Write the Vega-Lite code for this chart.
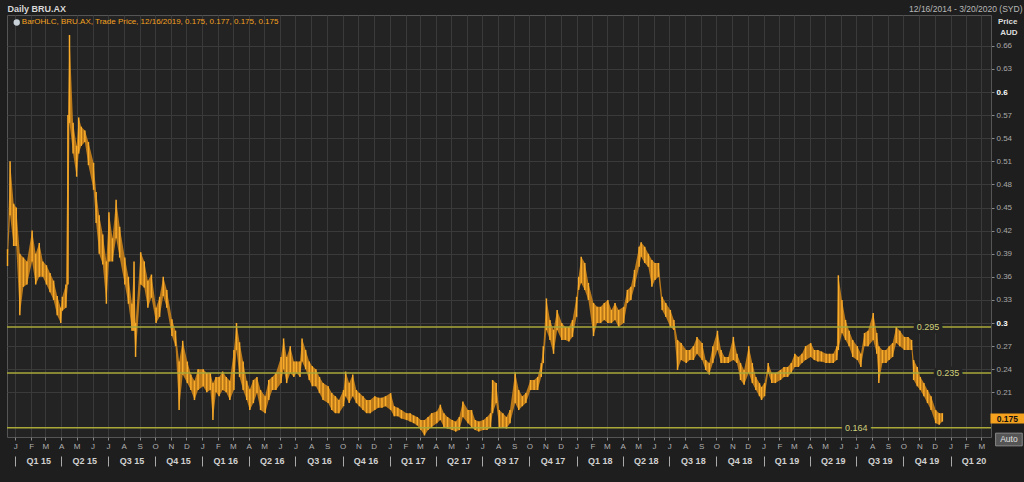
{
  "$schema": "https://vega.github.io/schema/vega-lite/v6.json",
  "width": 984,
  "height": 422,
  "autosize": {"type": "none"},
  "padding": {"left": 7, "top": 15, "right": 33, "bottom": 45},
  "background": "#1e1e1e",
  "config": {
    "font": "Liberation Sans",
    "view": {"fill": "#232323", "stroke": "#555555", "strokeWidth": 1}
  },
  "datasets": {
    "px": [
        {"d":"2014-12-17","lo":0.374,"hi":0.396},{"d":"2014-12-22","lo":0.44,"hi":0.51},{"d":"2014-12-29","lo":0.40,"hi":0.455},
        {"d":"2015-01-03","lo":0.40,"hi":0.45},{"d":"2015-01-10","lo":0.31,"hi":0.39},{"d":"2015-01-17","lo":0.347,"hi":0.385},{"d":"2015-01-24","lo":0.35,"hi":0.38},
        {"d":"2015-02-03","lo":0.38,"hi":0.42},{"d":"2015-02-10","lo":0.35,"hi":0.39},{"d":"2015-02-17","lo":0.36,"hi":0.404},{"d":"2015-02-24","lo":0.36,"hi":0.38},
        {"d":"2015-03-03","lo":0.35,"hi":0.375},{"d":"2015-03-10","lo":0.34,"hi":0.365},{"d":"2015-03-17","lo":0.33,"hi":0.355},{"d":"2015-03-24","lo":0.31,"hi":0.335},{"d":"2015-03-31","lo":0.30,"hi":0.32},
        {"d":"2015-04-03","lo":0.316,"hi":0.334},{"d":"2015-04-10","lo":0.32,"hi":0.35},{"d":"2015-04-14","lo":0.35,"hi":0.57},{"d":"2015-04-17","lo":0.56,"hi":0.674},{"d":"2015-04-24","lo":0.52,"hi":0.56},
        {"d":"2015-05-01","lo":0.49,"hi":0.53},{"d":"2015-05-05","lo":0.52,"hi":0.567},{"d":"2015-05-10","lo":0.53,"hi":0.555},{"d":"2015-05-17","lo":0.535,"hi":0.55},{"d":"2015-05-24","lo":0.505,"hi":0.535},
        {"d":"2015-06-03","lo":0.473,"hi":0.508},{"d":"2015-06-08","lo":0.43,"hi":0.47},{"d":"2015-06-14","lo":0.39,"hi":0.44},{"d":"2015-06-21","lo":0.376,"hi":0.415},{"d":"2015-06-28","lo":0.325,"hi":0.38},
        {"d":"2015-07-03","lo":0.38,"hi":0.444},{"d":"2015-07-10","lo":0.38,"hi":0.41},{"d":"2015-07-17","lo":0.41,"hi":0.46},{"d":"2015-07-24","lo":0.385,"hi":0.425},
        {"d":"2015-08-03","lo":0.35,"hi":0.385},{"d":"2015-08-10","lo":0.325,"hi":0.36},{"d":"2015-08-17","lo":0.29,"hi":0.325},{"d":"2015-08-21","lo":0.29,"hi":0.38},{"d":"2015-08-24","lo":0.256,"hi":0.30},
        {"d":"2015-09-03","lo":0.35,"hi":0.392},{"d":"2015-09-10","lo":0.346,"hi":0.38},{"d":"2015-09-17","lo":0.32,"hi":0.355},{"d":"2015-09-24","lo":0.333,"hi":0.363},
        {"d":"2015-10-03","lo":0.30,"hi":0.32},{"d":"2015-10-10","lo":0.308,"hi":0.334},{"d":"2015-10-17","lo":0.335,"hi":0.36},{"d":"2015-10-24","lo":0.32,"hi":0.343},
        {"d":"2015-11-03","lo":0.283,"hi":0.305},{"d":"2015-11-10","lo":0.27,"hi":0.29},{"d":"2015-11-17","lo":0.187,"hi":0.25},{"d":"2015-11-24","lo":0.233,"hi":0.277},
        {"d":"2015-12-03","lo":0.222,"hi":0.25},{"d":"2015-12-10","lo":0.213,"hi":0.233},{"d":"2015-12-17","lo":0.20,"hi":0.225},{"d":"2015-12-24","lo":0.213,"hi":0.24},
        {"d":"2016-01-03","lo":0.218,"hi":0.24},{"d":"2016-01-10","lo":0.21,"hi":0.235},{"d":"2016-01-17","lo":0.213,"hi":0.235},{"d":"2016-01-22","lo":0.174,"hi":0.222},{"d":"2016-01-28","lo":0.21,"hi":0.23},
        {"d":"2016-02-03","lo":0.205,"hi":0.23},{"d":"2016-02-10","lo":0.213,"hi":0.237},{"d":"2016-02-17","lo":0.21,"hi":0.23},{"d":"2016-02-24","lo":0.20,"hi":0.225},
        {"d":"2016-03-03","lo":0.213,"hi":0.265},{"d":"2016-03-08","lo":0.265,"hi":0.30},{"d":"2016-03-14","lo":0.23,"hi":0.275},{"d":"2016-03-21","lo":0.213,"hi":0.25},{"d":"2016-03-28","lo":0.20,"hi":0.225},
        {"d":"2016-04-03","lo":0.187,"hi":0.214},{"d":"2016-04-10","lo":0.196,"hi":0.226},{"d":"2016-04-17","lo":0.209,"hi":0.23},{"d":"2016-04-24","lo":0.187,"hi":0.213},
        {"d":"2016-05-03","lo":0.183,"hi":0.205},{"d":"2016-05-10","lo":0.20,"hi":0.226},{"d":"2016-05-17","lo":0.213,"hi":0.23},{"d":"2016-05-24","lo":0.213,"hi":0.235},
        {"d":"2016-06-03","lo":0.222,"hi":0.256},{"d":"2016-06-08","lo":0.24,"hi":0.28},{"d":"2016-06-14","lo":0.222,"hi":0.256},{"d":"2016-06-21","lo":0.235,"hi":0.27},{"d":"2016-06-28","lo":0.23,"hi":0.25},
        {"d":"2016-07-03","lo":0.235,"hi":0.25},{"d":"2016-07-10","lo":0.23,"hi":0.25},{"d":"2016-07-14","lo":0.25,"hi":0.28},{"d":"2016-07-21","lo":0.24,"hi":0.265},{"d":"2016-07-28","lo":0.226,"hi":0.25},
        {"d":"2016-08-03","lo":0.218,"hi":0.244},{"d":"2016-08-10","lo":0.218,"hi":0.24},{"d":"2016-08-17","lo":0.209,"hi":0.23},{"d":"2016-08-24","lo":0.20,"hi":0.222},
        {"d":"2016-09-03","lo":0.196,"hi":0.218},{"d":"2016-09-10","lo":0.187,"hi":0.209},{"d":"2016-09-17","lo":0.183,"hi":0.205},{"d":"2016-09-24","lo":0.183,"hi":0.20},
        {"d":"2016-10-03","lo":0.192,"hi":0.213},{"d":"2016-10-07","lo":0.205,"hi":0.237},{"d":"2016-10-14","lo":0.196,"hi":0.222},{"d":"2016-10-21","lo":0.205,"hi":0.233},{"d":"2016-10-28","lo":0.196,"hi":0.213},
        {"d":"2016-11-03","lo":0.192,"hi":0.209},{"d":"2016-11-10","lo":0.187,"hi":0.205},{"d":"2016-11-17","lo":0.183,"hi":0.20},{"d":"2016-11-24","lo":0.183,"hi":0.20},
        {"d":"2016-12-03","lo":0.187,"hi":0.205},{"d":"2016-12-10","lo":0.19,"hi":0.203},{"d":"2016-12-17","lo":0.19,"hi":0.203},{"d":"2016-12-24","lo":0.192,"hi":0.205},
        {"d":"2017-01-03","lo":0.187,"hi":0.209},{"d":"2017-01-10","lo":0.179,"hi":0.192},{"d":"2017-01-17","lo":0.179,"hi":0.19},{"d":"2017-01-24","lo":0.176,"hi":0.187},
        {"d":"2017-02-03","lo":0.174,"hi":0.183},{"d":"2017-02-10","lo":0.172,"hi":0.183},{"d":"2017-02-17","lo":0.17,"hi":0.18},{"d":"2017-02-24","lo":0.167,"hi":0.178},
        {"d":"2017-03-03","lo":0.161,"hi":0.174},{"d":"2017-03-10","lo":0.154,"hi":0.174},{"d":"2017-03-17","lo":0.161,"hi":0.178},{"d":"2017-03-24","lo":0.165,"hi":0.183},
        {"d":"2017-04-03","lo":0.17,"hi":0.185},{"d":"2017-04-10","lo":0.174,"hi":0.194},{"d":"2017-04-17","lo":0.165,"hi":0.183},{"d":"2017-04-24","lo":0.163,"hi":0.178},
        {"d":"2017-05-03","lo":0.161,"hi":0.174},{"d":"2017-05-10","lo":0.159,"hi":0.172},{"d":"2017-05-17","lo":0.161,"hi":0.178},{"d":"2017-05-24","lo":0.178,"hi":0.198},
        {"d":"2017-06-03","lo":0.17,"hi":0.187},{"d":"2017-06-10","lo":0.165,"hi":0.187},{"d":"2017-06-17","lo":0.161,"hi":0.174},{"d":"2017-06-24","lo":0.159,"hi":0.172},
        {"d":"2017-07-03","lo":0.161,"hi":0.174},{"d":"2017-07-10","lo":0.161,"hi":0.178},{"d":"2017-07-17","lo":0.165,"hi":0.183},{"d":"2017-07-21","lo":0.183,"hi":0.226},{"d":"2017-07-28","lo":0.196,"hi":0.222},
        {"d":"2017-08-03","lo":0.165,"hi":0.187},{"d":"2017-08-10","lo":0.165,"hi":0.183},{"d":"2017-08-17","lo":0.163,"hi":0.178},{"d":"2017-08-24","lo":0.17,"hi":0.187},
        {"d":"2017-09-03","lo":0.196,"hi":0.236},{"d":"2017-09-10","lo":0.187,"hi":0.213},{"d":"2017-09-17","lo":0.192,"hi":0.205},{"d":"2017-09-24","lo":0.196,"hi":0.209},
        {"d":"2017-10-03","lo":0.213,"hi":0.226},{"d":"2017-10-10","lo":0.213,"hi":0.226},{"d":"2017-10-17","lo":0.213,"hi":0.23},{"d":"2017-10-24","lo":0.23,"hi":0.248},{"d":"2017-10-28","lo":0.248,"hi":0.27},
        {"d":"2017-11-03","lo":0.291,"hi":0.332},{"d":"2017-11-10","lo":0.278,"hi":0.304},{"d":"2017-11-17","lo":0.26,"hi":0.291},{"d":"2017-11-24","lo":0.291,"hi":0.317},
        {"d":"2017-12-03","lo":0.278,"hi":0.30},{"d":"2017-12-10","lo":0.278,"hi":0.295},{"d":"2017-12-17","lo":0.276,"hi":0.295},{"d":"2017-12-24","lo":0.282,"hi":0.304},
        {"d":"2018-01-01","lo":0.308,"hi":0.334},{"d":"2018-01-05","lo":0.343,"hi":0.36},{"d":"2018-01-10","lo":0.352,"hi":0.386},{"d":"2018-01-17","lo":0.343,"hi":0.378},{"d":"2018-01-24","lo":0.33,"hi":0.352},
        {"d":"2018-02-03","lo":0.283,"hi":0.326},{"d":"2018-02-10","lo":0.30,"hi":0.321},{"d":"2018-02-17","lo":0.30,"hi":0.321},{"d":"2018-02-24","lo":0.304,"hi":0.326},
        {"d":"2018-03-03","lo":0.30,"hi":0.33},{"d":"2018-03-10","lo":0.30,"hi":0.317},{"d":"2018-03-17","lo":0.304,"hi":0.326},{"d":"2018-03-24","lo":0.295,"hi":0.317},
        {"d":"2018-04-03","lo":0.30,"hi":0.321},{"d":"2018-04-10","lo":0.326,"hi":0.343},{"d":"2018-04-17","lo":0.33,"hi":0.347},{"d":"2018-04-24","lo":0.347,"hi":0.369},
        {"d":"2018-05-03","lo":0.373,"hi":0.399},{"d":"2018-05-07","lo":0.386,"hi":0.405},{"d":"2018-05-14","lo":0.378,"hi":0.399},{"d":"2018-05-21","lo":0.373,"hi":0.39},{"d":"2018-05-28","lo":0.347,"hi":0.382},
        {"d":"2018-06-03","lo":0.356,"hi":0.378},{"d":"2018-06-10","lo":0.36,"hi":0.378},{"d":"2018-06-17","lo":0.317,"hi":0.334},{"d":"2018-06-24","lo":0.308,"hi":0.326},
        {"d":"2018-07-03","lo":0.295,"hi":0.317},{"d":"2018-07-10","lo":0.291,"hi":0.304},{"d":"2018-07-17","lo":0.239,"hi":0.278},{"d":"2018-07-24","lo":0.252,"hi":0.274},
        {"d":"2018-08-03","lo":0.248,"hi":0.265},{"d":"2018-08-10","lo":0.252,"hi":0.265},{"d":"2018-08-17","lo":0.252,"hi":0.27},{"d":"2018-08-24","lo":0.26,"hi":0.282},
        {"d":"2018-09-03","lo":0.252,"hi":0.274},{"d":"2018-09-10","lo":0.239,"hi":0.252},{"d":"2018-09-17","lo":0.233,"hi":0.248},{"d":"2018-09-24","lo":0.248,"hi":0.27},
        {"d":"2018-10-03","lo":0.265,"hi":0.29},{"d":"2018-10-10","lo":0.248,"hi":0.265},{"d":"2018-10-17","lo":0.248,"hi":0.256},{"d":"2018-10-24","lo":0.248,"hi":0.256},
        {"d":"2018-11-03","lo":0.252,"hi":0.282},{"d":"2018-11-10","lo":0.248,"hi":0.26},{"d":"2018-11-17","lo":0.226,"hi":0.248},{"d":"2018-11-24","lo":0.22,"hi":0.239},
        {"d":"2018-12-03","lo":0.235,"hi":0.27},{"d":"2018-12-10","lo":0.222,"hi":0.248},{"d":"2018-12-17","lo":0.213,"hi":0.23},{"d":"2018-12-24","lo":0.205,"hi":0.222},{"d":"2018-12-28","lo":0.20,"hi":0.217},
        {"d":"2019-01-03","lo":0.205,"hi":0.222},{"d":"2019-01-10","lo":0.235,"hi":0.248},{"d":"2019-01-17","lo":0.222,"hi":0.235},{"d":"2019-01-24","lo":0.222,"hi":0.235},
        {"d":"2019-02-03","lo":0.226,"hi":0.239},{"d":"2019-02-10","lo":0.23,"hi":0.243},{"d":"2019-02-17","lo":0.23,"hi":0.243},{"d":"2019-02-24","lo":0.235,"hi":0.248},
        {"d":"2019-03-03","lo":0.243,"hi":0.26},{"d":"2019-03-10","lo":0.243,"hi":0.256},{"d":"2019-03-17","lo":0.248,"hi":0.26},{"d":"2019-03-24","lo":0.252,"hi":0.27},
        {"d":"2019-04-03","lo":0.256,"hi":0.274},{"d":"2019-04-10","lo":0.252,"hi":0.265},{"d":"2019-04-17","lo":0.25,"hi":0.265},{"d":"2019-04-24","lo":0.25,"hi":0.263},
        {"d":"2019-05-03","lo":0.248,"hi":0.26},{"d":"2019-05-10","lo":0.248,"hi":0.26},{"d":"2019-05-17","lo":0.248,"hi":0.26},{"d":"2019-05-24","lo":0.252,"hi":0.27},{"d":"2019-05-27","lo":0.265,"hi":0.362},
        {"d":"2019-06-03","lo":0.287,"hi":0.33},{"d":"2019-06-10","lo":0.278,"hi":0.304},{"d":"2019-06-17","lo":0.27,"hi":0.29},{"d":"2019-06-24","lo":0.256,"hi":0.278},
        {"d":"2019-07-03","lo":0.252,"hi":0.27},{"d":"2019-07-10","lo":0.243,"hi":0.26},{"d":"2019-07-17","lo":0.27,"hi":0.287},{"d":"2019-07-24","lo":0.27,"hi":0.29},
        {"d":"2019-08-03","lo":0.278,"hi":0.313},{"d":"2019-08-10","lo":0.26,"hi":0.287},{"d":"2019-08-14","lo":0.222,"hi":0.27},{"d":"2019-08-21","lo":0.248,"hi":0.265},{"d":"2019-08-28","lo":0.248,"hi":0.265},
        {"d":"2019-09-03","lo":0.252,"hi":0.27},{"d":"2019-09-10","lo":0.256,"hi":0.274},{"d":"2019-09-17","lo":0.274,"hi":0.295},{"d":"2019-09-24","lo":0.27,"hi":0.29},
        {"d":"2019-10-03","lo":0.265,"hi":0.282},{"d":"2019-10-10","lo":0.265,"hi":0.282},{"d":"2019-10-17","lo":0.265,"hi":0.278},{"d":"2019-10-21","lo":0.226,"hi":0.252},{"d":"2019-10-28","lo":0.218,"hi":0.243},
        {"d":"2019-11-03","lo":0.213,"hi":0.23},{"d":"2019-11-10","lo":0.205,"hi":0.222},{"d":"2019-11-17","lo":0.196,"hi":0.213},{"d":"2019-11-24","lo":0.187,"hi":0.205},
        {"d":"2019-12-03","lo":0.17,"hi":0.187},{"d":"2019-12-10","lo":0.168,"hi":0.183},{"d":"2019-12-16","lo":0.172,"hi":0.183}
    ],
    "levels": [{"v": 0.295, "d": "2019-11-18", "lbl": "0.295"}, {"v": 0.235, "d": "2019-12-27", "lbl": "0.235"}, {"v": 0.164, "d": "2019-07-01", "lbl": "0.164"}],
    "one": [{"legend": "BarOHLC, BRU.AX, Trade Price, 12/16/2019, 0.175, 0.177, 0.175, 0.175", "last": "0.175", "btn": "Auto"}]
  },
  "resolve": {"axis": {"x": "independent", "y": "independent"}},
  "layer": [
    {
      "data": {"name": "px"},
      "mark": {"type": "area", "color": "#d4881a", "opacity": 0.85},
      "encoding": {
        "x": {
          "field": "d", "type": "temporal",
          "scale": {"domain": [{"year": 2014, "month": 12, "date": 16}, {"year": 2020, "month": 3, "date": 20}], "nice": false},
          "axis": {
            "orient": "bottom", "title": null, "tickCount": {"interval": "month", "step": 1},
            "labelExpr": "substring(timeFormat(datum.value, '%b'), 0, 1)",
            "labelFontSize": 8, "labelColor": "#b0b0b0", "labelPadding": 2, "labelOverlap": false, "labelFlush": false,
            "tickSize": 3, "tickColor": "#888888", "domain": false,
            "grid": true, "gridColor": "#3a3a3a", "gridWidth": 1
          }
        },
        "y": {
          "field": "lo", "type": "quantitative",
          "scale": {"domain": [0.152, 0.7], "nice": false, "zero": false},
          "axis": {
            "orient": "right",
            "values": [0.21, 0.24, 0.27, 0.3, 0.33, 0.36, 0.39, 0.42, 0.45, 0.48, 0.51, 0.54, 0.57, 0.6, 0.63, 0.66],
            "format": ".2~f", "labelOverlap": false, "labelFlush": false,
            "labelFontSize": 8, "labelPadding": 2,
            "labelColor": {"expr": "datum.value == 0.3 || datum.value == 0.6 ? '#ffffff' : '#a8a8a8'"},
            "labelFontWeight": {"expr": "datum.value == 0.3 || datum.value == 0.6 ? 'bold' : 'normal'"},
            "tickSize": 3, "tickColor": "#888888", "domainColor": "#555555",
            "grid": true, "gridColor": "#3a3a3a", "gridWidth": 1,
            "title": ["Price", "AUD"], "titleAngle": 0, "titleX": 26, "titleY": 2,
            "titleAlign": "right", "titleBaseline": "top", "titleFontSize": 8, "titleFontWeight": "bold",
            "titleColor": "#dddddd", "titleLineHeight": 11
          }
        },
        "y2": {"field": "hi"}
      }
    },
    {
      "data": {"name": "px"},
      "mark": {"type": "rule", "color": "#f9ab2a", "strokeWidth": 1.5},
      "encoding": {
        "x": {"field": "d", "type": "temporal", "axis": null},
        "y": {"field": "lo", "type": "quantitative", "axis": null},
        "y2": {"field": "hi"}
      }
    },
    {
      "data": {"name": "levels"},
      "mark": {"type": "rule", "color": "#a9a93a", "strokeWidth": 1.5},
      "encoding": {"y": {"field": "v", "type": "quantitative", "axis": null}}
    },
    {
      "data": {"name": "levels"},
      "mark": {"type": "text", "fontSize": 9, "color": "#232323", "stroke": "#232323", "strokeWidth": 7, "baseline": "middle"},
      "encoding": {
        "x": {"field": "d", "type": "temporal",
          "axis": {"orient": "bottom", "title": null, "offset": 17, "grid": false, "domain": false, "ticks": false,
            "values": [
              {"year": 2015, "month": 2, "date": 15}, {"year": 2015, "month": 5, "date": 16}, {"year": 2015, "month": 8, "date": 16}, {"year": 2015, "month": 11, "date": 15},
              {"year": 2016, "month": 2, "date": 15}, {"year": 2016, "month": 5, "date": 16}, {"year": 2016, "month": 8, "date": 16}, {"year": 2016, "month": 11, "date": 15},
              {"year": 2017, "month": 2, "date": 15}, {"year": 2017, "month": 5, "date": 16}, {"year": 2017, "month": 8, "date": 16}, {"year": 2017, "month": 11, "date": 15},
              {"year": 2018, "month": 2, "date": 15}, {"year": 2018, "month": 5, "date": 16}, {"year": 2018, "month": 8, "date": 16}, {"year": 2018, "month": 11, "date": 15},
              {"year": 2019, "month": 2, "date": 15}, {"year": 2019, "month": 5, "date": 16}, {"year": 2019, "month": 8, "date": 16}, {"year": 2019, "month": 11, "date": 15},
              {"year": 2020, "month": 2, "date": 15}
            ],
            "labelExpr": "'Q' + quarter(datum.value) + ' ' + timeFormat(datum.value, '%y')",
            "labelFontSize": 9, "labelFontWeight": "bold", "labelColor": "#d0d0d0", "labelPadding": 2,
            "labelOverlap": false, "labelFlush": false}},
        "y": {"field": "v", "type": "quantitative", "axis": null},
        "text": {"field": "lbl"}
      }
    },
    {
      "data": {"name": "levels"},
      "mark": {"type": "text", "fontSize": 9, "color": "#cfcf7a", "baseline": "middle"},
      "encoding": {
        "x": {"field": "d", "type": "temporal",
          "axis": {"orient": "bottom", "title": null, "offset": 19, "grid": false, "domain": false, "labels": false,
            "tickSize": 10, "tickColor": "#aaaaaa",
            "values": [
              {"year": 2015, "month": 1, "date": 1}, {"year": 2015, "month": 4, "date": 1}, {"year": 2015, "month": 7, "date": 1}, {"year": 2015, "month": 10, "date": 1},
              {"year": 2016, "month": 1, "date": 1}, {"year": 2016, "month": 4, "date": 1}, {"year": 2016, "month": 7, "date": 1}, {"year": 2016, "month": 10, "date": 1},
              {"year": 2017, "month": 1, "date": 1}, {"year": 2017, "month": 4, "date": 1}, {"year": 2017, "month": 7, "date": 1}, {"year": 2017, "month": 10, "date": 1},
              {"year": 2018, "month": 1, "date": 1}, {"year": 2018, "month": 4, "date": 1}, {"year": 2018, "month": 7, "date": 1}, {"year": 2018, "month": 10, "date": 1},
              {"year": 2019, "month": 1, "date": 1}, {"year": 2019, "month": 4, "date": 1}, {"year": 2019, "month": 7, "date": 1}, {"year": 2019, "month": 10, "date": 1},
              {"year": 2020, "month": 1, "date": 1}
            ]}},
        "y": {"field": "v", "type": "quantitative", "axis": null},
        "text": {"field": "lbl"}
      }
    },
    {
      "data": {"name": "one"},
      "mark": {"type": "text", "align": "left", "baseline": "middle", "fontSize": 8, "color": "#f5a21e"},
      "encoding": {
        "x": {"datum": {"year": 2015, "month": 1, "date": 14}, "type": "temporal",
          "axis": {"orient": "top", "title": "Daily BRU.AX", "labels": false, "ticks": false, "domain": false, "grid": false,
            "titleX": 0, "titleY": -4, "titleAlign": "left", "titleAnchor": null, "titleBaseline": "alphabetic",
            "titleFontSize": 9, "titleFontWeight": "bold", "titleColor": "#d8d8d8"}},
        "y": {"datum": 0.6903, "type": "quantitative", "axis": null},
        "text": {"field": "legend"}
      }
    },
    {
      "data": {"name": "one"},
      "mark": {"type": "point", "shape": "circle", "filled": true, "size": 40, "color": "#c8d0d8", "opacity": 1},
      "encoding": {
        "x": {"datum": {"year": 2015, "month": 1, "date": 4}, "type": "temporal",
          "axis": {"orient": "top", "title": "12/16/2014 - 3/20/2020 (SYD)", "labels": false, "ticks": false, "domain": false, "grid": false,
            "titleX": 1015, "titleY": -4, "titleAlign": "right", "titleAnchor": null, "titleBaseline": "alphabetic",
            "titleFontSize": 8.5, "titleFontWeight": "normal", "titleColor": "#b8b8b8"}},
        "y": {"datum": 0.6903, "type": "quantitative", "axis": null}
      }
    },
    {
      "data": {"name": "one"},
      "mark": {"type": "rect", "color": "#f5a21e", "clip": false},
      "encoding": {
        "x": {"datum": {"year": 2020, "month": 3, "date": 19}, "type": "temporal", "axis": null},
        "x2": {"datum": {"year": 2020, "month": 5, "date": 24}},
        "y": {"datum": 0.1825, "type": "quantitative", "axis": null},
        "y2": {"datum": 0.1695}
      }
    },
    {
      "data": {"name": "one"},
      "mark": {"type": "text", "color": "#111111", "fontSize": 8.5, "fontWeight": "bold", "align": "center", "baseline": "middle"},
      "encoding": {
        "x": {"datum": {"year": 2020, "month": 4, "date": 21}, "type": "temporal", "axis": null},
        "y": {"datum": 0.176, "type": "quantitative", "axis": null},
        "text": {"field": "last"}
      }
    },
    {
      "data": {"name": "one"},
      "mark": {"type": "rect", "color": "#555555", "stroke": "#888888", "strokeWidth": 1},
      "encoding": {
        "x": {"datum": {"year": 2020, "month": 3, "date": 29}, "type": "temporal", "axis": null},
        "x2": {"datum": {"year": 2020, "month": 5, "date": 20}},
        "y": {"datum": 0.157, "type": "quantitative", "axis": null},
        "y2": {"datum": 0.1405}
      }
    },
    {
      "data": {"name": "one"},
      "mark": {"type": "text", "color": "#e0e0e0", "fontSize": 8.5, "align": "center", "baseline": "middle"},
      "encoding": {
        "x": {"datum": {"year": 2020, "month": 4, "date": 24}, "type": "temporal", "axis": null},
        "y": {"datum": 0.1488, "type": "quantitative", "axis": null},
        "text": {"field": "btn"}
      }
    }
  ]
}
